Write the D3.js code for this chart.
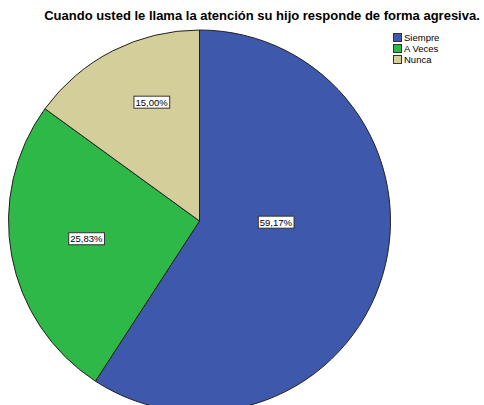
<!DOCTYPE html>
<html><head><meta charset="utf-8">
<script src="https://cdn.jsdelivr.net/npm/d3@7"></script>
<style>body{margin:0;background:#fff}svg{display:block}</style>
</head><body>
<svg id="c" width="484" height="405"></svg>
<script>
const categories = ["Siempre", "A Veces", "Nunca"];
const values = [59.17, 25.83, 15.00];
const labels = ["59,17%", "25,83%", "15,00%"];
const colors = ["#3E58AC", "#2EB848", "#D4CF9A"];
const title = "Cuando usted le llama la atención su hijo responde de forma agresiva.";

const svg = d3.select("#c");
const cx = 199.5, cy = 221, r = 191;

svg.append("text").attr("x", 262).attr("y", 20).attr("text-anchor", "middle")
  .attr("font-family", "Liberation Sans, Arial, sans-serif").attr("font-weight", "bold")
  .attr("font-size", 13).attr("fill", "#000").text(title);

const pie = d3.pie().sort(null).value(d => d)(values);
const arc = d3.arc().innerRadius(0).outerRadius(r);
const g = svg.append("g").attr("transform", `translate(${cx},${cy})`);
g.selectAll("path").data(pie).join("path")
  .attr("d", arc).attr("fill", (d, i) => colors[i])
  .attr("stroke", "#222").attr("stroke-width", 1);

// label placement (layout): angle (deg, clockwise from top) and radius fraction
const labelPos = [[91, 0.40], [261, 0.60], [338, 0.67]];
labels.forEach((t, i) => {
  const a = labelPos[i][0] * Math.PI / 180, rr = labelPos[i][1] * r;
  const x = Math.sin(a) * rr, y = -Math.cos(a) * rr;
  const lg = g.append("g").attr("transform", `translate(${x},${y})`);
  const txt = lg.append("text").attr("text-anchor", "middle").attr("dy", "0.35em")
    .attr("font-family", "Liberation Sans, Arial, sans-serif").attr("font-size", 9.5)
    .attr("fill", "#000").text(t);
  const bb = txt.node().getBBox();
  lg.insert("rect", "text").attr("x", bb.x - 1.5).attr("y", bb.y - 0.5)
    .attr("width", bb.width + 3).attr("height", bb.height + 1)
    .attr("fill", "#fff").attr("stroke", "#333").attr("stroke-width", 1);
});

const leg = svg.append("g").attr("transform", "translate(393,33)");
categories.forEach((c, i) => {
  const y = i * 11;
  leg.append("rect").attr("x", 0.5).attr("y", y + 0.5).attr("width", 8).attr("height", 8)
    .attr("fill", colors[i]).attr("stroke", "#333").attr("stroke-width", 1);
  leg.append("text").attr("x", 11).attr("y", y + 8)
    .attr("font-family", "Liberation Sans, Arial, sans-serif").attr("font-size", 9.5)
    .attr("fill", "#000").text(c);
});
</script>
</body></html>
